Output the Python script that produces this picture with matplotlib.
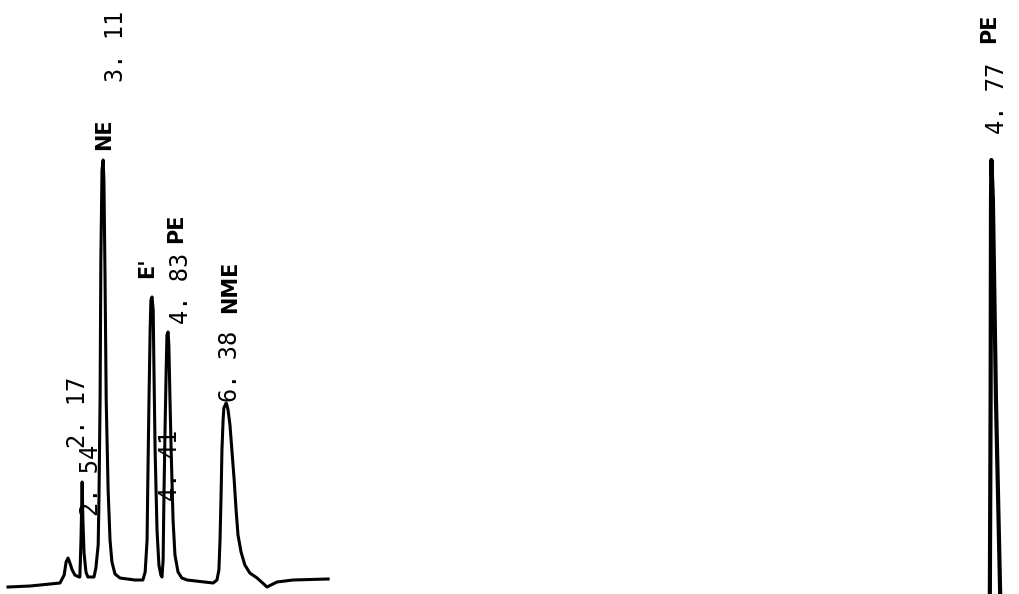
import matplotlib
matplotlib.use("Agg")
import matplotlib.pyplot as plt

# ---------------- data (retention time in min, detector signal in a.u.) -------------
# Left chromatogram trace (mixture)
mix_time = [0.65, 1.23, 2.01, 2.12, 2.17, 2.22, 2.27, 2.33, 2.40, 2.51,
            2.53, 2.56, 2.59, 2.61, 2.64, 2.69, 2.74,
            2.90, 2.95, 3.01, 3.03, 3.06, 3.08, 3.11, 3.14, 3.16, 3.19, 3.22, 3.27, 3.32, 3.37, 3.45, 3.58,
            3.97, 4.18, 4.24, 4.29, 4.31, 4.34, 4.37, 4.39, 4.42, 4.45, 4.47, 4.50, 4.55, 4.60, 4.65,
            4.68, 4.71, 4.73, 4.76, 4.79, 4.81, 4.84, 4.86, 4.89, 4.92, 4.97, 5.02, 5.10, 5.20, 5.34,
            6.02, 6.12, 6.17, 6.20, 6.23, 6.25, 6.28, 6.30, 6.36, 6.38, 6.41, 6.46, 6.51, 6.57,
            6.62, 6.67, 6.75, 6.85, 6.98, 7.17, 7.43, 7.69, 8.11, 9.03]
mix_signal = [-9, -8, -5, 3, 16, 20, 15, 8, 3, 1,
              1, 38, 96, 58, 25, 6, 1,
              1, 10, 33, 78, 178, 318, 408, 418, 398, 298, 178, 88, 38, 16, 4, 0,
              -2, -2, 6, 38, 98, 178, 248, 278, 281, 268, 208, 128, 48, 13, 3,
              1, 18, 78, 148, 208, 243, 246, 233, 178, 128, 58, 23, 6, 0, -2,
              -5, -2, 8, 38, 88, 128, 158, 170, 175, 173, 168, 153, 128, 98,
              68, 43, 26, 13, 5, 0, -9, -4, -2, -1]

# Right chromatogram trace (single standard)
std_time = [4.73, 4.74, 4.76, 4.77, 4.78, 4.82, 4.90, 5.01, 5.03]
std_signal = [-72, -16, 178, 378, 418, 378, 178, -16, -72]

# Peak labels: retention time of the labelled peak, printed RT text, compound name
mix_peak_rt = [2.17, 2.54, 3.11, 4.41, 4.83, 6.38]
mix_peak_height = [20, 96, 418, 281, 246, 175]
mix_rt_text = ["2. 17", "2. 54", "3. 11", "4. 41", "4. 83", "6. 38"]
mix_names = ["", "", "NE", "E'", "PE", "NME"]

std_peak_rt = [4.77]
std_peak_height = [418]
std_rt_text = ["4. 77"]
std_names = ["PE"]

# ---------------- layout ----------------
W, H = 1020, 594
PX_PER_MIN = 38.2
fig = plt.figure(figsize=(W / 100, H / 100), dpi=100)
fig.patch.set_facecolor("white")

def make_axes(px_left, px_width, t_ref, px_ref):
    ax = fig.add_axes([px_left / W, 0, px_width / W, 1])
    ax.set_xlim(t_ref - (px_ref - px_left) / PX_PER_MIN,
                t_ref + (px_left + px_width - px_ref) / PX_PER_MIN)
    ax.set_ylim(-16, 578)
    ax.axis("off")
    return ax

ax1 = make_axes(0, 340, 3.11, 102)
ax2 = make_axes(900, 120, 4.77, 991)

ax1.plot(mix_time, mix_signal, color="black", lw=2.2, solid_joinstyle="round")
ax2.plot(std_time, std_signal, color="black", lw=3.0, solid_joinstyle="round")

num_font = dict(family="DejaVu Sans Mono", fontsize=17, color="black")
name_font = dict(family="DejaVu Sans", fontsize=15, fontweight="bold", color="black")

# label offsets (pixels) relative to peak apex: (rt_dx, rt_dy, name_dx, name_dy)
mix_offsets = [(12, 146, 0, 0), (11, 2, 0, 0), (14, 114, 2, 26),
               (18, -168, -5, 29), (13, 44, 8, 104), (3, 37, 3, 116)]
std_offsets = [(6, 62, -2, 132)]

def label(ax, rts, hts, texts, names, offsets):
    for t, h, txt, nm, (dx, dy, ndx, ndy) in zip(rts, hts, texts, names, offsets):
        ax.annotate(txt, xy=(t, h), xytext=(dx, dy), textcoords="offset pixels",
                    rotation=90, ha="center", va="center", annotation_clip=False,
                    **num_font)
        if nm:
            ax.annotate(nm, xy=(t, h), xytext=(ndx, ndy), textcoords="offset pixels",
                        rotation=90, ha="center", va="center", annotation_clip=False,
                        **name_font)

label(ax1, mix_peak_rt, mix_peak_height, mix_rt_text, mix_names, mix_offsets)
label(ax2, std_peak_rt, std_peak_height, std_rt_text, std_names, std_offsets)

fig.savefig("out.png", dpi=100, facecolor="white")
